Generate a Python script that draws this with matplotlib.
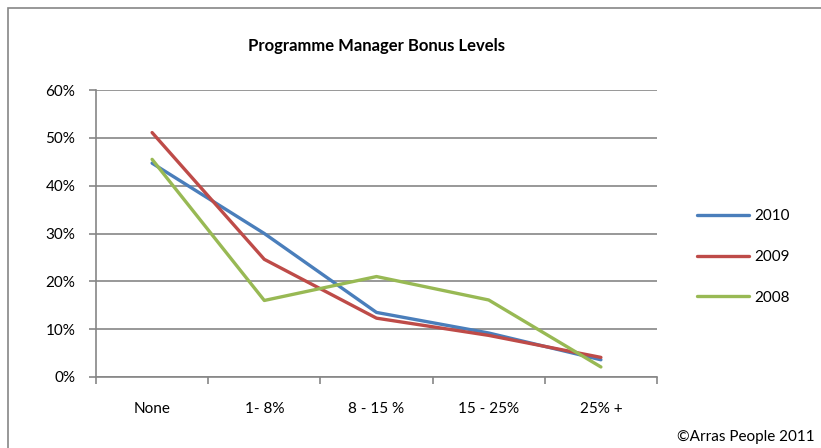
import matplotlib
matplotlib.use("Agg")
import matplotlib.pyplot as plt
from matplotlib.patches import Rectangle
from matplotlib.ticker import FuncFormatter

categories = ["None", "1- 8%", "8 - 15 %", "15 - 25%", "25% +"]
years = ["2010", "2009", "2008"]
v2010 = [0.447, 0.300, 0.135, 0.092, 0.036]
v2009 = [0.511, 0.246, 0.123, 0.087, 0.041]
v2008 = [0.455, 0.160, 0.210, 0.161, 0.021]
colors = ["#4A7EBB", "#BE4B48", "#98B954"]

plt.rcParams['font.family'] = ['Lato', 'DejaVu Sans']

fig = plt.figure(figsize=(8.21, 4.48), dpi=100)
ax = fig.add_axes([96/821, 1-377/448, (657-96)/821, (377-90)/448])

# outer chart border
fig.patches.append(Rectangle((8/821, -0.1), 1.2, 1-8/448+0.1, transform=fig.transFigure,
                             fill=False, edgecolor="#868686", linewidth=1.2))

x = list(range(len(categories)))
for vals, yr, c in zip([v2010, v2009, v2008], years, colors):
    ax.plot(x, vals, color=c, linewidth=2.4, label=yr, solid_capstyle="round")

ax.set_ylim(0, 0.6)
ax.set_yticks([0, 0.1, 0.2, 0.3, 0.4, 0.5, 0.6])
ax.yaxis.set_major_formatter(FuncFormatter(lambda v, p: "%d%%" % round(v*100)))
ax.set_xlim(-0.5, len(categories)-0.5)
ax.set_xticks([i-0.5 for i in range(len(categories)+1)])
ax.set_xticklabels([])
ax.set_xticks(x, minor=True)
ax.set_xticklabels(categories, minor=True)
ax.tick_params(axis="x", which="minor", length=0, pad=18, labelsize=11)
ax.tick_params(axis="x", which="major", length=5, color="#868686", width=1.2)
ax.tick_params(axis="y", length=5, color="#868686", width=1.2, pad=10, labelsize=11)

ax.grid(axis="y", color="#868686", linewidth=1.2)
ax.set_axisbelow(True)
for s in ["top", "right"]:
    ax.spines[s].set_visible(False)
for s in ["left", "bottom"]:
    ax.spines[s].set_color("#868686")
    ax.spines[s].set_linewidth(1.2)

ax.set_title("Programme Manager Bonus Levels", fontsize=12, fontweight="bold", pad=28)

ax.legend(loc="center left", bbox_to_anchor=(1.046, 0.418), frameon=False, fontsize=11,
          handlelength=3.45, labelspacing=1.75, handletextpad=0.33)

fig.text(815/821, 1-437/448, "\u00a9Arras People 2011", ha="right", va="center", fontsize=11)

fig.savefig("out.png", dpi=100)
